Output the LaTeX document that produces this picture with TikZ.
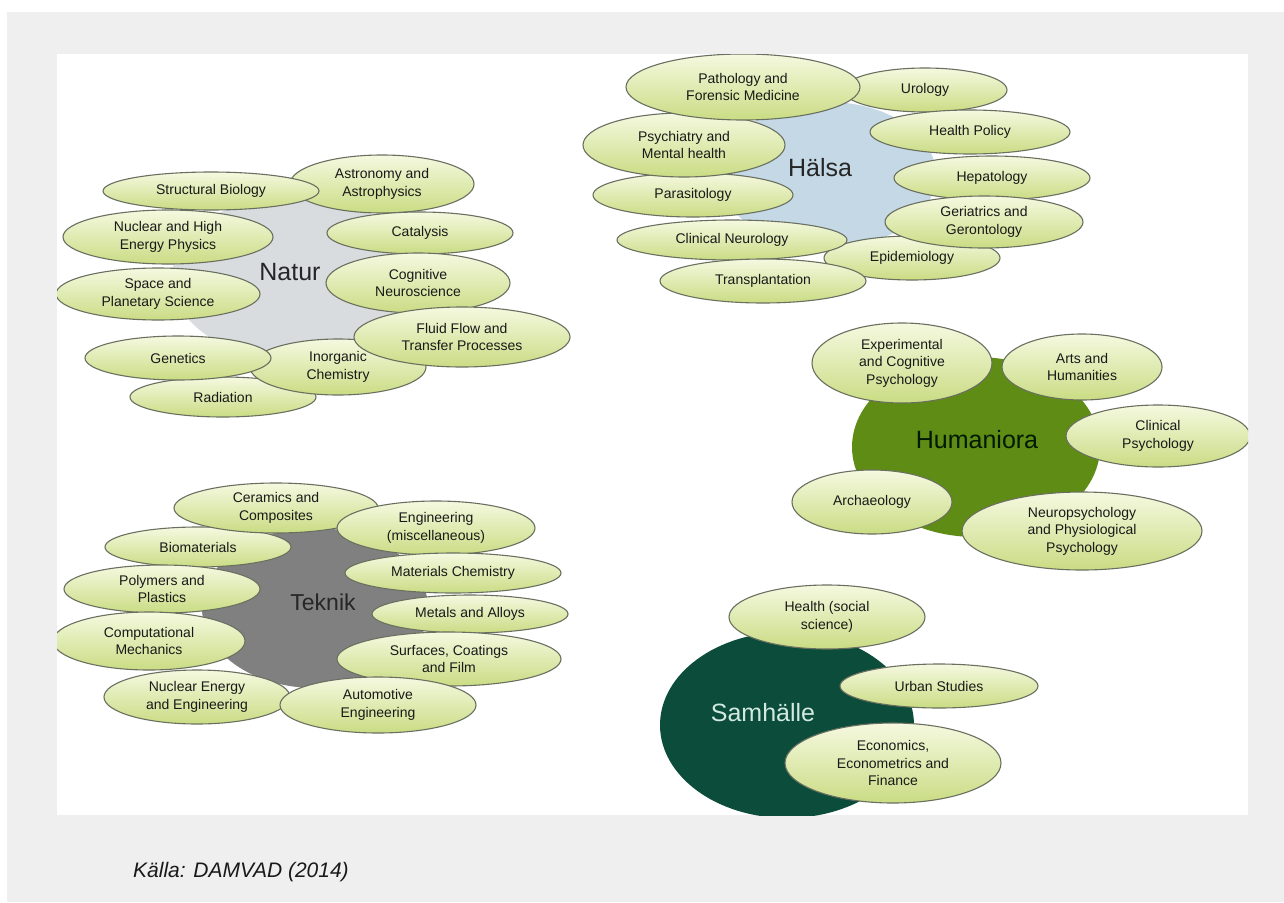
\documentclass[tikz,border=0pt]{standalone}
\usepackage{fontspec}
\setmainfont{Liberation Sans}
\usetikzlibrary{shapes.geometric}

\definecolor{pagegrey}{HTML}{EFEFEF}
\definecolor{rimgrey}{HTML}{6A7060}
\definecolor{leaftop}{HTML}{F5F9E0}
\definecolor{leafbot}{HTML}{CADC84}
\definecolor{naturfill}{HTML}{D8DCDF}
\definecolor{halsafill}{HTML}{C4D8E6}
\definecolor{teknikfill}{HTML}{808080}
\definecolor{humfill}{HTML}{5E8C14}
\definecolor{samfill}{HTML}{0B4C3B}
\definecolor{samtext}{HTML}{D2EADF}

\tikzset{
  leaf/.style={ellipse, draw=rimgrey, line width=1.1pt,
    top color=leaftop, bottom color=leafbot, inner sep=0pt,
    align=center, text=black!90,
    font=\fontsize{14}{17.5}\selectfont},
  hub/.style={ellipse, inner sep=0pt, draw=none},
  hubtext/.style={inner sep=0pt, font=\fontsize{25}{28}\selectfont},
  sz/.style 2 args={minimum width=#1, minimum height=#2}
}

\begin{document}
\begin{tikzpicture}[x=1pt,y=-1pt]
% page and panel
\useasboundingbox (0,0) rectangle (1284,902);
\fill[white] (0,0) rectangle (1284,902);
\fill[pagegrey] (7,12) rectangle (1284,902);
\fill[white] (57,54) rectangle (1248,815);

\begin{scope}
\clip (57,54) rectangle (1248,815);

% ---------- Natur ----------
\node[hub, fill=naturfill, sz={244}{164}] (natur) at (294,278) {};
\node[hubtext, text=black!85] (naturlbl) at (290,272) {Natur};
\node[leaf, sz={186}{40}] (radiation) at (223,397) {Radiation};
\node[leaf, sz={184}{58}] (astro) at (382,184) {Astronomy and\\Astrophysics};
\node[leaf, sz={216}{38}] (structbio) at (211,191) {Structural Biology};
\node[leaf, sz={210}{54}] (nuclearhigh) at (168,237) {Nuclear and High\\Energy Physics};
\node[leaf, sz={204}{52}] (space) at (158,294) {Space and\\Planetary Science};
\node[leaf, sz={186}{42}] (catalysis) at (420,233) {Catalysis};
\node[leaf, sz={184}{60}] (cogneuro) at (418,283) {Cognitive\\Neuroscience};
\node[leaf, sz={176}{56}] (inorganic) at (338,367) {Inorganic\\Chemistry};
\node[leaf, sz={186}{44}] (genetics) at (178,358) {Genetics};
\node[leaf, sz={216}{60}] (fluid) at (462,337) {Fluid Flow and\\Transfer Processes};

% ---------- Hälsa ----------
\node[hub, fill=halsafill, sz={216}{146}] (halsa) at (828,175) {};
\node[hubtext, text=black!85] (halsalbl) at (820,168) {Hälsa};
\node[leaf, sz={164}{44}] (urology) at (925,90) {Urology};
\node[leaf, sz={176}{44}] (epidem) at (912,258) {Epidemiology};
\node[leaf, sz={200}{44}] (parasit) at (693,195) {Parasitology};
\node[leaf, sz={202}{64}] (psych) at (684,145) {Psychiatry and\\Mental health};
\node[leaf, sz={234}{66}] (patho) at (743,87) {Pathology and\\Forensic Medicine};
\node[leaf, sz={200}{44}] (healthpol) at (970,132) {Health Policy};
\node[leaf, sz={196}{44}] (hepat) at (992,178) {Hepatology};
\node[leaf, sz={198}{52}] (geri) at (984,222) {Geriatrics and\\Gerontology};
\node[leaf, sz={230}{40}] (clinneuro) at (732,240) {Clinical Neurology};
\node[leaf, sz={206}{44}] (transpl) at (763,281) {Transplantation};

% ---------- Humaniora ----------
\node[hub, fill=humfill, sz={248}{180}] (hum) at (976,447) {};
\node[hubtext, text=black!90!green] (humlbl) at (977,440) {Humaniora};
\node[leaf, sz={180}{80}] (expcog) at (902,363) {Experimental\\and Cognitive\\Psychology};
\node[leaf, sz={160}{66}] (arts) at (1082,367) {Arts and\\Humanities};
\node[leaf, sz={184}{62}] (clinpsy) at (1158,436) {Clinical\\Psychology};
\node[leaf, sz={160}{64}] (archae) at (872,502) {Archaeology};
\node[leaf, sz={240}{78}] (neuropsy) at (1082,531) {Neuropsychology\\and Physiological\\Psychology};

% ---------- Teknik ----------
\node[hub, fill=teknikfill, sz={226}{160}] (teknik) at (315,608) {};
\node[hubtext, text=black!85, font=\fontsize{23}{26}\selectfont] (tekniklbl) at (323,602) {Teknik};
\node[leaf, sz={186}{40}] (biomat) at (198,547) {Biomaterials};
\node[leaf, sz={204}{50}] (ceramics) at (276,508) {Ceramics and\\Composites};
\node[leaf, sz={198}{54}] (engmisc) at (436,528) {Engineering\\(miscellaneous)};
\node[leaf, sz={196}{48}] (polymers) at (162,589) {Polymers and\\Plastics};
\node[leaf, sz={192}{58}] (compmech) at (149,641) {Computational\\Mechanics};
\node[leaf, sz={216}{40}] (matchem) at (453,573) {Materials Chemistry};
\node[leaf, sz={196}{38}] (metals) at (470,614) {Metals and Alloys};
\node[leaf, sz={224}{54}] (surfaces) at (449,659) {Surfaces, Coatings\\and Film};
\node[leaf, sz={186}{54}] (nucenergy) at (197,697) {Nuclear Energy\\and Engineering};
\node[leaf, sz={196}{56}] (auto) at (378,705) {Automotive\\Engineering};

% ---------- Samhälle ----------
\node[hub, fill=samfill, sz={254}{186}] (sam) at (787,725) {};
\node[hubtext, text=samtext] (samlbl) at (763,713) {Samhälle};
\node[leaf, sz={196}{64}] (healthsoc) at (827,617) {Health (social\\science)};
\node[leaf, sz={198}{44}] (urban) at (939,686) {Urban Studies};
\node[leaf, sz={216}{80}] (econ) at (893,763) {Economics,\\Econometrics and\\Finance};
\end{scope}

% source line
\node[anchor=base west, inner sep=0pt, text=black!90,
      font=\fontsize{21}{24}\selectfont\itshape] (source) at (133,877) {Källa: DAMVAD (2014)};
\end{tikzpicture}
\end{document}
